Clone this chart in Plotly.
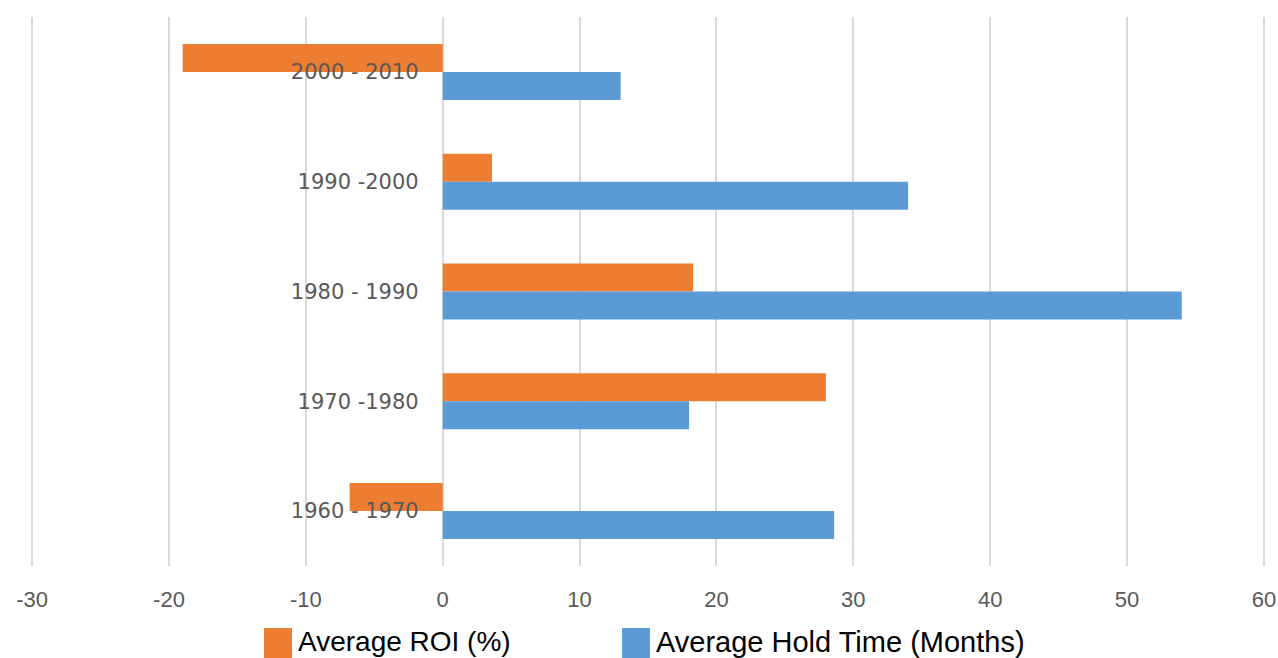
import plotly.graph_objects as go

# decades, top to bottom as shown
decades = ["2000 - 2010", "1990 -2000", "1980 - 1990", "1970 -1980", "1960 - 1970"]
avg_roi = [-19.0, 3.6, 18.3, 28.0, -6.8]
avg_hold = [13.0, 34.0, 54.0, 18.0, 28.6]
x_ticks = [-30, -20, -10, 0, 10, 20, 30, 40, 50, 60]
x_tick_labels = ["-30", "-20", "-10", "0", "10", "20", "30", "40", "50", "60"]

ORANGE = "#ED7D31"
BLUE = "#5B9BD5"

fig = go.Figure()
fig.add_trace(go.Bar(y=decades, x=avg_roi, orientation="h", name="Average ROI (%)",
                     marker=dict(color=ORANGE, line=dict(width=0))))
fig.add_trace(go.Bar(y=decades, x=avg_hold, orientation="h", name="Average Hold Time (Months)",
                     marker=dict(color=BLUE, line=dict(width=0))))

fig.update_layout(
    width=1278, height=658,
    margin=dict(l=31, r=13, t=17, b=92),
    paper_bgcolor="white", plot_bgcolor="white",
    barmode="group", bargap=0.49, bargroupgap=0,
    showlegend=False,
    xaxis=dict(range=[-30.08, 60.08], tickvals=x_ticks, ticktext=x_tick_labels,
               showgrid=True, gridcolor="#d9d9d9", gridwidth=1.5,
               zeroline=False, showline=False, ticks="", automargin=False,
               ticklabelstandoff=18,
               tickfont=dict(family="Liberation Sans", size=22, color="#595959")),
    yaxis=dict(type="category", autorange="reversed", anchor="free", position=30.08 / 90.16,
               showgrid=False, zeroline=False, showline=False, ticks="", automargin=False,
               ticklabelstandoff=24,
               tickfont=dict(family="DejaVu Sans", size=21, color="#595959")),
)

# legend drawn by hand so the swatches match the large square keys
def key(x0, color, label, size):
    fig.add_shape(type="rect", xref="paper", yref="paper",
                  x0=x0, x1=x0 + 28 / 1234, y0=-0.113, y1=-0.17,
                  fillcolor=color, line=dict(width=0))
    fig.add_annotation(xref="paper", yref="paper", x=x0 + 32 / 1234, y=-0.138,
                       xanchor="left", yanchor="middle", showarrow=False, text=label,
                       font=dict(family="Liberation Sans", size=size, color="black"))

key((264 - 31) / 1234, ORANGE, "Average ROI (%)", 28)
key((622 - 31) / 1234, BLUE, "Average Hold Time (Months)", 29)

# drop the default page margin so the figure fills the window exactly
fig.write_html("out.html", config={"displayModeBar": False},
               post_script="document.body.style.margin='0';document.body.style.overflow='hidden';")
